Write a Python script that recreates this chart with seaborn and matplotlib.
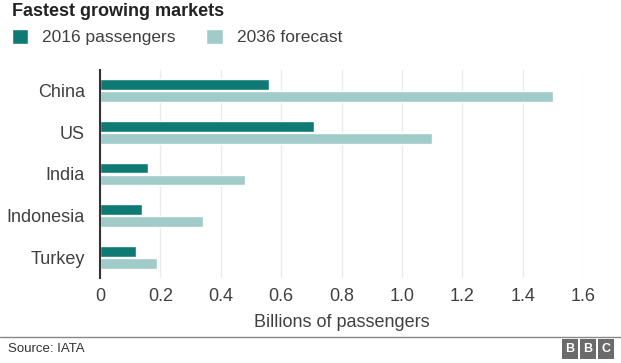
import matplotlib
matplotlib.use("Agg")
import matplotlib.pyplot as plt
import seaborn as sns
import pandas as pd
from matplotlib.lines import Line2D

# data
countries = ["China", "US", "India", "Indonesia", "Turkey"]
pax_2016 = [0.56, 0.71, 0.16, 0.14, 0.12]
pax_2036 = [1.50, 1.10, 0.48, 0.34, 0.19]
series = ["2016 passengers", "2036 forecast"]
colors = ["#0f7a73", "#a0cbc8"]
xticks = [0, 0.2, 0.4, 0.6, 0.8, 1.0, 1.2, 1.4, 1.6]

df = pd.DataFrame({
    "country": countries * 2,
    "value": pax_2016 + pax_2036,
    "series": [series[0]] * 5 + [series[1]] * 5,
})

sns.set_style("white")
plt.rcParams["font.family"] = ["Liberation Sans", "DejaVu Sans"]

fig = plt.figure(figsize=(6.21, 3.63), dpi=100)
ax = fig.add_axes([100 / 621, 1 - 278 / 363, 483 / 621, 208 / 363])

sns.barplot(data=df, y="country", x="value", hue="series", palette=colors,
            orient="h", width=0.58, gap=0.1, saturation=1, ax=ax)

ax.set_xlim(0, 1.6)
ax.set_ylim(4.5, -0.5)
ax.set_xticks(xticks)
ax.set_xticklabels(["0", "0.2", "0.4", "0.6", "0.8", "1.0", "1.2", "1.4", "1.6"])
ax.grid(axis="x", color="#ebebeb", linewidth=1)
ax.set_axisbelow(True)
for s in ["top", "right", "bottom"]:
    ax.spines[s].set_visible(False)
ax.spines["left"].set_color("#333333")
ax.spines["left"].set_linewidth(1.5)
ax.tick_params(axis="both", length=0, labelsize=13, colors="#404040")
ax.tick_params(axis="y", pad=11)
ax.tick_params(axis="x", pad=7)
ax.set_ylabel("")
ax.set_xlabel("Billions of passengers", fontsize=13, color="#404040", labelpad=7)

sns.move_legend(ax, "upper left", bbox_to_anchor=(12 / 621, 1 - 29 / 363),
                bbox_transform=fig.transFigure, ncol=2, frameon=False,
                title=None, fontsize=12.5, handlelength=0.95, handleheight=0.95,
                handletextpad=0.8, columnspacing=1.75, borderaxespad=0,
                borderpad=0)
for t in ax.get_legend().get_texts():
    t.set_color("#404040")

fig.text(12 / 621, 1 - 12 / 363, "Fastest growing markets", fontsize=13,
         fontweight="bold", color="#222222", va="center", ha="left")

fig.add_artist(Line2D([0, 1], [1 - 337 / 363] * 2, color="#888888",
                      linewidth=1, transform=fig.transFigure))
fig.text(8 / 621, 1 - 349 / 363, "Source: IATA", fontsize=9.5,
         color="#333333", va="center", ha="left")
for i, letter in enumerate("BBC"):
    fig.text((570 + i * 18) / 621, 1 - 349 / 363, letter, fontsize=9,
             fontweight="bold", color="white", va="center", ha="center",
             bbox=dict(boxstyle="square,pad=0.3", fc="#6b6b6b", ec="none"))

fig.savefig("out.png", dpi=100)
